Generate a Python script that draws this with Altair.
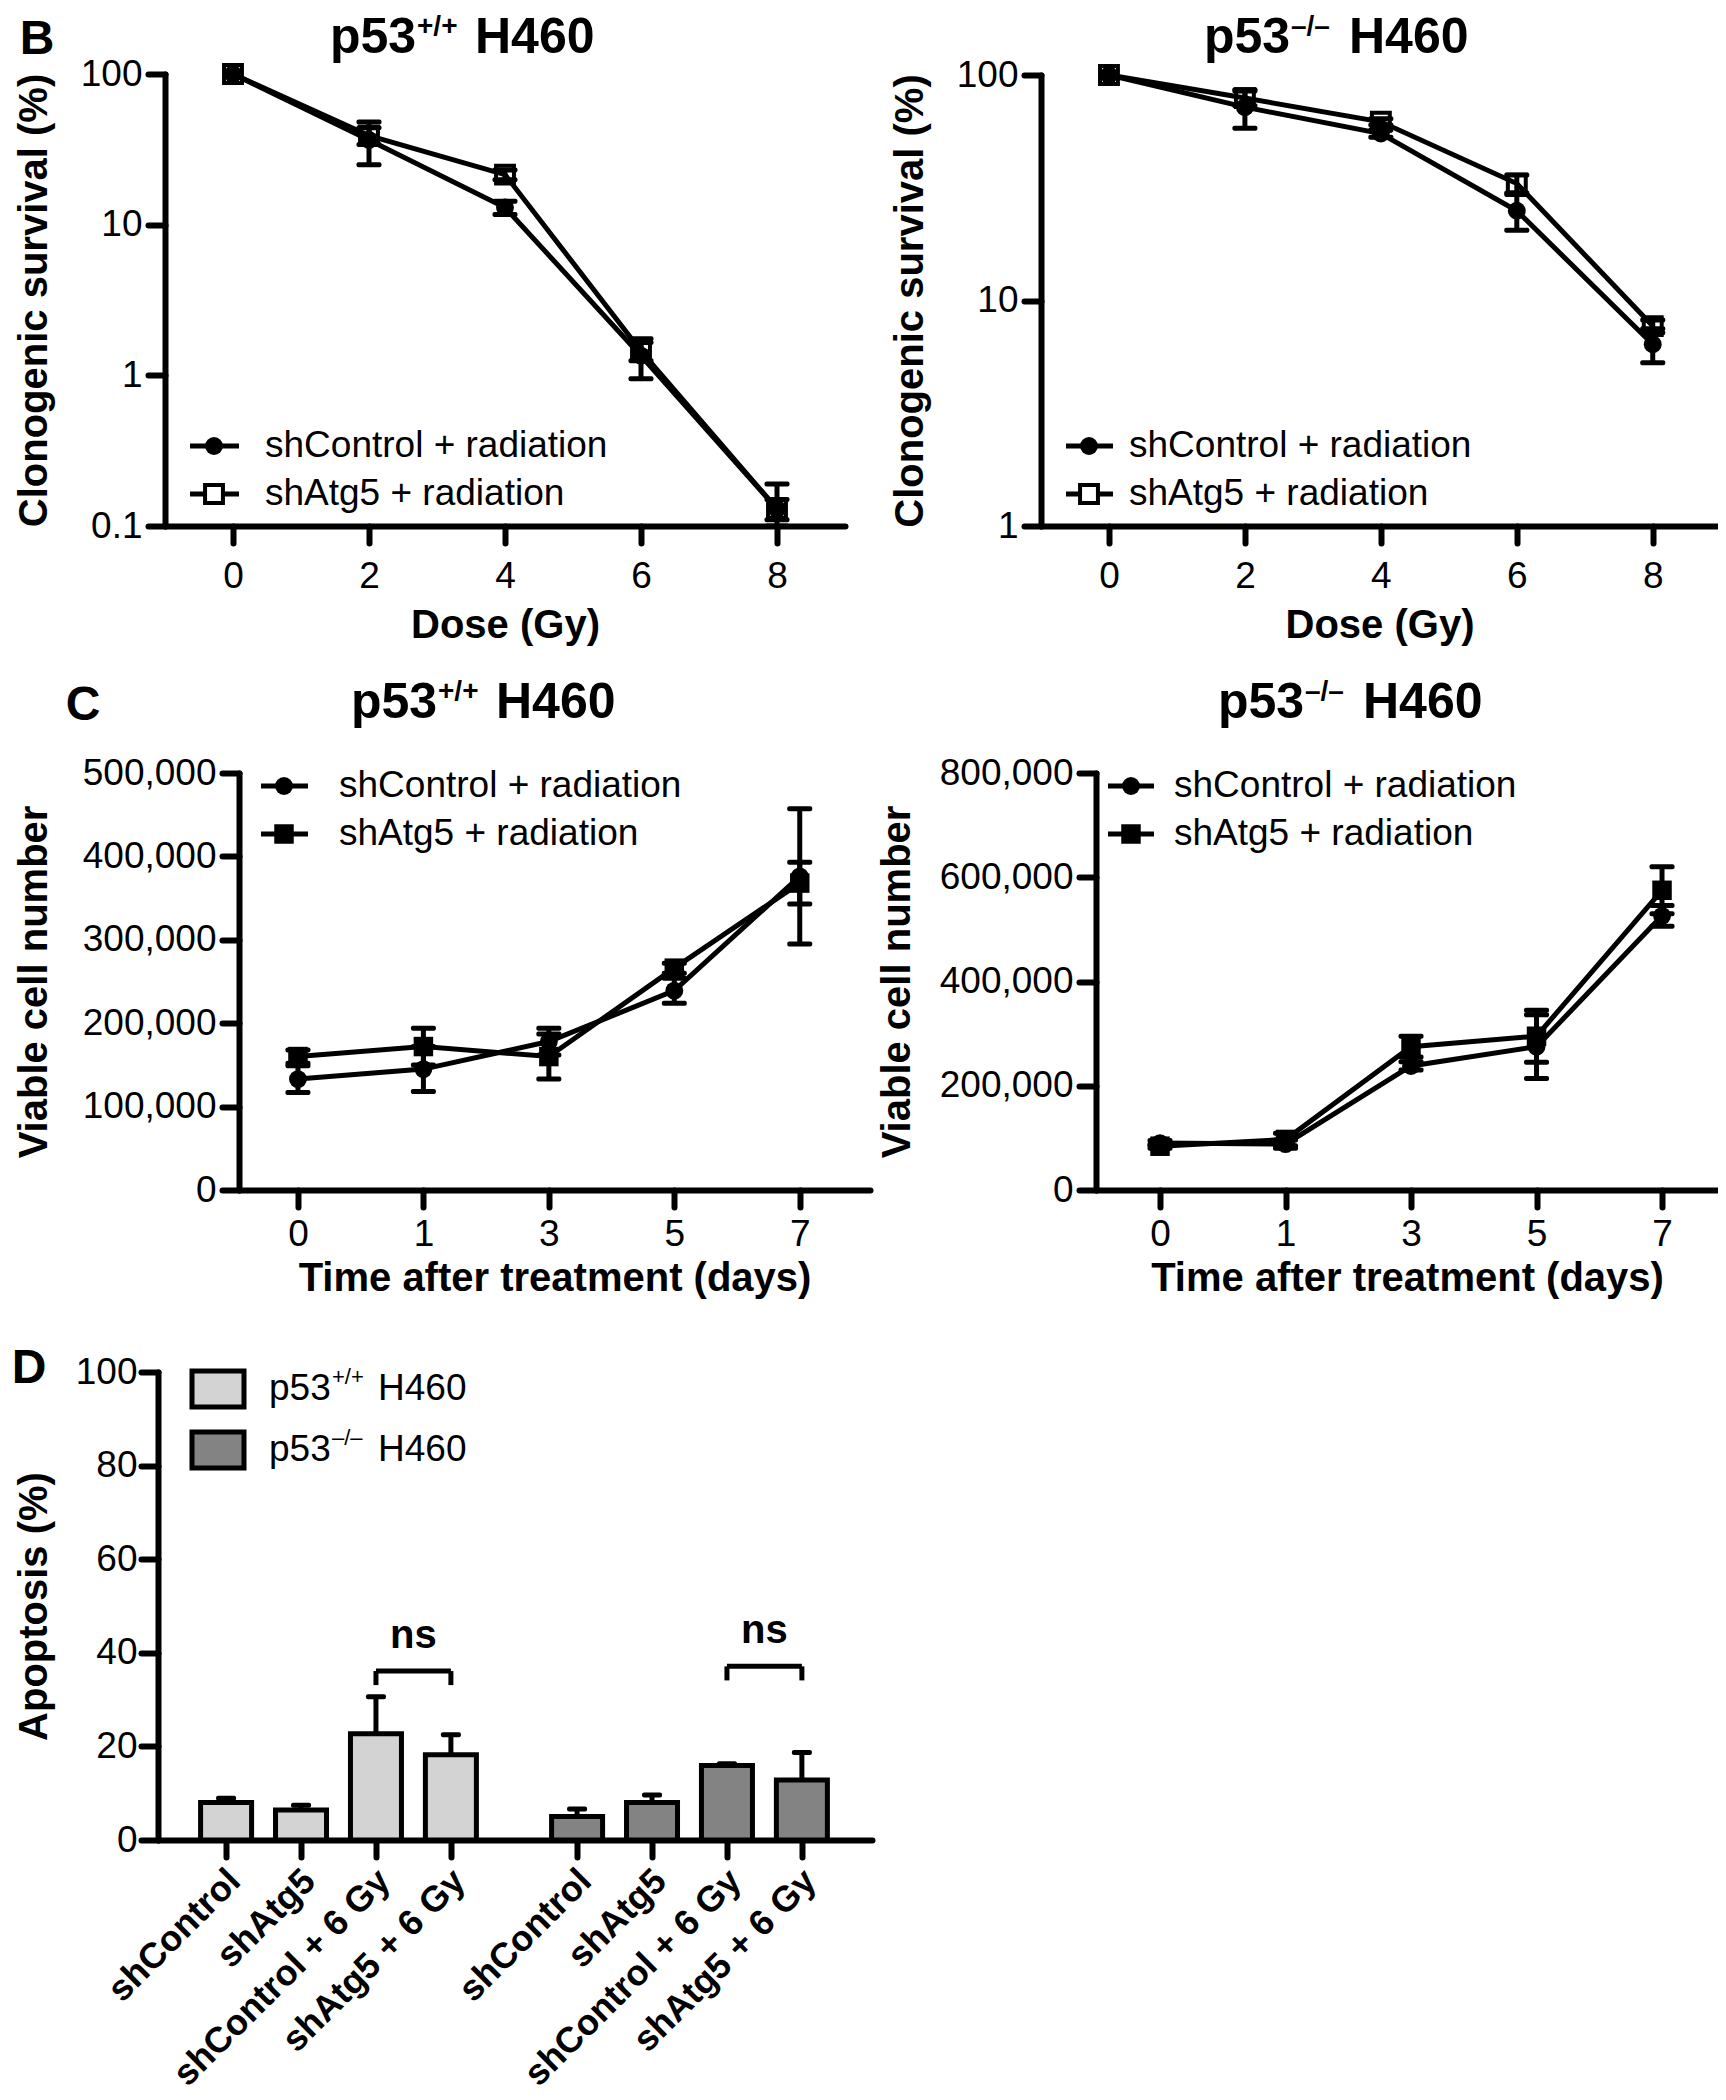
import altair as alt
import pandas as pd

FONT = "Liberation Sans, Arial, Helvetica, sans-serif"
INK = "black"
W, H = 1710, 2084

# ---------------- data ----------------
doses = [0, 2, 4, 6, 8]
days = [0, 1, 3, 5, 7]
series = ["shControl + radiation", "shAtg5 + radiation"]
gene, cell = "p53", "H460"
genotypes = ["+/+", "\u2013/\u2013"]

surv_wt_ctrl = [100, 36.5, 13.0, 1.35, 0.13]
surv_wt_ctrl_sd = [0, 11.5, 1.3, 0.40, 0.06]
surv_wt_atg5 = [100, 39.0, 21.5, 1.45, 0.13]
surv_wt_atg5_sd = [0, 5.0, 1.6, 0.20, 0.02]

surv_ko_ctrl = [100, 72, 55, 25, 6.4]
surv_ko_ctrl_sd = [0, 14, 2, 4.5, 1.1]
surv_ko_atg5 = [100, 79, 62, 33, 7.7]
surv_ko_atg5_sd = [0, 6, 2, 3, 0.5]

cells_wt_ctrl = [133000, 145000, 178000, 239000, 376000]
cells_wt_ctrl_sd = [16000, 27000, 16000, 15000, 81000]
cells_wt_atg5 = [160000, 172000, 160000, 266000, 368000]
cells_wt_atg5_sd = [8000, 22000, 27000, 6000, 25000]

cells_ko_ctrl = [90000, 88000, 238000, 275000, 526000]
cells_ko_ctrl_sd = [5000, 8000, 8000, 61000, 20000]
cells_ko_atg5 = [84000, 97000, 275000, 295000, 575000]
cells_ko_atg5_sd = [4000, 12000, 20000, 50000, 45000]

conditions = ["shControl", "shAtg5", "shControl + 6 Gy", "shAtg5 + 6 Gy"]
apop_wt = [8.0, 6.4, 22.7, 18.2]
apop_wt_err = [0.9, 1.0, 7.9, 4.3]
apop_ko = [5.0, 8.0, 15.9, 12.8]
apop_ko_err = [1.6, 1.6, 0.4, 5.9]
ns_level = [36.1, 37.1]

LW = 5
ONE = pd.DataFrame({"_": [0]})
CIRCLE = 320
OPEN_SQ = 320
FILLED_SQ = 380


def make_df(xs, a, a_sd, b, b_sd):
    rows = []
    for s, vals, sds in ((series[0], a, a_sd), (series[1], b, b_sd)):
        for i, (x, v, sd) in enumerate(zip(xs, vals, sds)):
            rows.append(dict(series=s, x=x, idx=i, v=v, sd=sd, lo=v - sd, hi=v + sd))
    return pd.DataFrame(rows)


def txt(text, x, y, size, bold=False, align="left", baseline="alphabetic"):
    return alt.Chart(ONE).mark_text(
        text=text, font=FONT, fontSize=size, fontWeight="bold" if bold else "normal",
        color=INK, align=align, baseline=baseline,
    ).encode(x=alt.value(x), y=alt.value(y))


def panel_title(x0, base, geno):
    return [
        txt(gene, x0, base, 50, True),
        txt(geno, x0 + 87, base - 18, 28, True),
        txt(cell, x0 + 145, base, 50, True),
    ]


def marker(chart, i, open_second):
    if i == 0:
        return chart.mark_circle(size=CIRCLE, color=INK, opacity=1)
    if open_second:
        return chart.mark_square(size=OPEN_SQ, fill=None, fillOpacity=0, stroke=INK,
                                 strokeWidth=4, opacity=1)
    return chart.mark_square(size=FILLED_SQ, color=INK, opacity=1)


def line_legend(xl0, xl1, xm, xt, ys, open_second):
    layers = []
    for i, s in enumerate(series):
        one = pd.DataFrame({"label": [s]})
        layers.append(alt.Chart(one).mark_rule(color=INK, strokeWidth=LW).encode(
            x=alt.value(xl0), x2=alt.value(xl1), y=alt.value(ys[i])))
        if i == 1 and open_second:
            layers.append(alt.Chart(one).mark_square(size=OPEN_SQ, color="white", opacity=1).encode(
                x=alt.value(xm), y=alt.value(ys[i])))
        layers.append(marker(alt.Chart(one), i, open_second).encode(x=alt.value(xm), y=alt.value(ys[i])))
        layers.append(alt.Chart(one).mark_text(
            font=FONT, fontSize=37, color=INK, align="left", baseline="middle").encode(
            x=alt.value(xt), y=alt.value(ys[i]), text="label:N"))
    return layers


def line_panel(df, xfield, xsc, ysc, xax, yax, xtitle, ytitle, open_second, extra):
    X = alt.X(f"{xfield}:Q", scale=xsc, axis=xax, title=xtitle)

    def Y(f):
        return alt.Y(f"{f}:Q", scale=ysc, axis=yax, title=ytitle)

    base = alt.Chart(df)
    pts = [marker(base.transform_filter(alt.datum.series == s), i, open_second).encode(x=X, y=Y("v"))
           for i, s in enumerate(series)]
    line = base.mark_line(color=INK, strokeWidth=LW).encode(x=X, y=Y("v"), detail="series:N")
    err = base.transform_filter("datum.sd > 0")
    stems = err.mark_rule(color=INK, strokeWidth=LW).encode(x=X, y=Y("lo"), y2="hi:Q")
    cap_lo = err.mark_tick(orient="horizontal", size=25, thickness=5, color=INK, opacity=1,
                           cornerRadius=2).encode(x=X, y=Y("lo"))
    cap_hi = err.mark_tick(orient="horizontal", size=25, thickness=5, color=INK, opacity=1,
                           cornerRadius=2).encode(x=X, y=Y("hi"))
    return alt.layer(*pts, line, stems, cap_lo, cap_hi, *extra)


def yaxis(offset, values, fmt, tx):
    return alt.Axis(orient="left", offset=offset, values=values, format=fmt,
                    titleX=tx, labelPadding=6)


TOP = 45  # baseline of the top-row titles

# ---------------- panel B ----------------
dfB1 = make_df(doses, surv_wt_ctrl, surv_wt_ctrl_sd, surv_wt_atg5, surv_wt_atg5_sd)
dfB2 = make_df(doses, surv_ko_ctrl, surv_ko_ctrl_sd, surv_ko_atg5, surv_ko_atg5_sd)

xB_ax = dict(orient="bottom", values=doses, format="d", labelPadding=15, titlePadding=11)

B1 = line_panel(
    dfB1, "x",
    alt.Scale(domain=[-1, 9], range=[157, 837], nice=False, zero=False),
    alt.Scale(type="log", domain=[0.1, 100], range=[518, 66], clamp=True, nice=False),
    alt.Axis(offset=518 - H, **xB_ax),
    yaxis(-157, [0.1, 1, 10, 100], "~g", 46 - 157),
    "Dose (Gy)", "Clonogenic survival (%)", True,
    [txt("B", 29, TOP + 1, 48, True, "center"), *panel_title(322, TOP, genotypes[0]),
     *line_legend(182, 231, 206, 257, [438, 486], True)],
)

B2 = line_panel(
    dfB2, "x",
    alt.Scale(domain=[-1, 8.96], range=[1033, 1710], nice=False, zero=False),
    alt.Scale(type="log", domain=[1, 100], range=[518, 67], clamp=True, nice=False),
    alt.Axis(offset=518 - H, **xB_ax),
    yaxis(-1033, [1, 10, 100], "~g", 922 - 1033),
    "Dose (Gy)", "Clonogenic survival (%)", True,
    [*panel_title(1196, TOP, genotypes[1]),
     *line_legend(1058, 1105, 1081, 1121, [438, 486], True)],
)

# ---------------- panel C ----------------
dfC1 = make_df(days, cells_wt_ctrl, cells_wt_ctrl_sd, cells_wt_atg5, cells_wt_atg5_sd)
dfC2 = make_df(days, cells_ko_ctrl, cells_ko_ctrl_sd, cells_ko_atg5, cells_ko_atg5_sd)
day_expr = "[" + ",".join(f"'{d}'" for d in days) + "][round(datum.value)]"
xC_ax = dict(orient="bottom", values=list(range(len(days))), labelExpr=day_expr,
             labelPadding=9, titlePadding=6)

C1 = line_panel(
    dfC1, "idx",
    alt.Scale(domain=[-0.47, 4.56], range=[231, 862], nice=False, zero=False),
    alt.Scale(domain=[0, 500000], range=[1182, 765], nice=False),
    alt.Axis(offset=1182 - H, **xC_ax),
    yaxis(-231, list(range(0, 500001, 100000)), ",d", 46 - 231),
    "Time after treatment (days)", "Viable cell number", False,
    [txt("C", 75, 712, 48, True, "center"), *panel_title(343, 710, genotypes[0]),
     *line_legend(253, 300, 276, 331, [778, 826], False)],
)

C2 = line_panel(
    dfC2, "idx",
    alt.Scale(domain=[-0.51, 4.446], range=[1088, 1710], nice=False, zero=False),
    alt.Scale(domain=[0, 800000], range=[1182, 765], nice=False),
    alt.Axis(offset=1182 - H, **xC_ax),
    yaxis(-1088, list(range(0, 800001, 200000)), ",d", 909 - 1088),
    "Time after treatment (days)", "Viable cell number", False,
    [*panel_title(1210, 710, genotypes[1]),
     *line_legend(1100, 1146, 1123, 1166, [778, 826], False)],
)

# ---------------- panel D ----------------
GAP = 0.684
lines_d = [f"{gene}{g} {cell}" for g in genotypes]
rows = []
for g, (vals, errs) in enumerate(((apop_wt, apop_wt_err), (apop_ko, apop_ko_err))):
    for i, c in enumerate(conditions):
        rows.append(dict(line=lines_d[g], cond=c, pos=g * (len(conditions) + GAP) + i,
                         v=vals[i], hi=vals[i] + errs[i]))
dfD = pd.DataFrame(rows)
positions = [float(p) for p in dfD["pos"]]
cond_arr = "[" + ",".join(f"'{c}'" for c in conditions) + "]"
d_expr = f"{cond_arr}[round(datum.value - (datum.value > 4 ? {GAP} : 0)) % 4]"

xD_sc = alt.Scale(domain=[-0.842, 8.553], range=[150, 864], nice=False, zero=False)
xD_ax = alt.Axis(orient="bottom", offset=1832 - H, values=positions, labelExpr=d_expr,
                 labelAngle=-45, labelAlign="right", labelBaseline="top",
                 labelFontWeight="bold", labelFontSize=36, labelPadding=6,
                 labelOffset=-4, labelLimit=0, tickSize=17)


def XD(f):
    return alt.X(f"{f}:Q", scale=xD_sc, axis=xD_ax, title=None)


yD_sc = alt.Scale(domain=[0, 100], range=[1832, 1364], nice=False)
yD_ax = alt.Axis(orient="left", offset=-150, values=list(range(0, 101, 20)),
                 titleX=46 - 150, labelPadding=4, tickSize=17)


def YD(f):
    return alt.Y(f"{f}:Q", scale=yD_sc, axis=yD_ax, title="Apoptosis (%)")


fills = ["#d3d3d3", "#838383"]
bD = alt.Chart(dfD)
bars = bD.mark_bar(size=51, stroke=INK, strokeWidth=LW, opacity=1).encode(
    x=XD("pos"), y=YD("v"),
    color=alt.Color("line:N", scale=alt.Scale(domain=lines_d, range=fills), legend=None))
d_stem = bD.mark_rule(color=INK, strokeWidth=LW).encode(x=XD("pos"), y=YD("v"), y2="hi:Q")
d_cap = bD.mark_tick(orient="horizontal", size=20, thickness=5, color=INK, opacity=1,
                     cornerRadius=2).encode(x=XD("pos"), y=YD("hi"))

ns_rows = []
for g in range(2):
    a = positions[g * 4 + 2]
    b = positions[g * 4 + 3]
    ns_rows.append(dict(a=a, b=b, mid=(a + b) / 2, top=ns_level[g], leg=ns_level[g] - 3.0,
                        lab=ns_level[g] + 7.5, t="ns"))
dfNS = pd.DataFrame(ns_rows)
nsC = alt.Chart(dfNS)
ns_h = nsC.mark_rule(color=INK, strokeWidth=LW).encode(x=XD("a"), x2="b:Q", y=YD("top"))
ns_l1 = nsC.mark_rule(color=INK, strokeWidth=LW).encode(x=XD("a"), y=YD("top"), y2="leg:Q")
ns_l2 = nsC.mark_rule(color=INK, strokeWidth=LW).encode(x=XD("b"), y=YD("top"), y2="leg:Q")
ns_t = nsC.mark_text(font=FONT, fontSize=40, fontWeight="bold", color=INK, baseline="middle").encode(
    x=XD("mid"), y=YD("lab"), text="t:N")

d_leg = []
for g, ly in enumerate([1381, 1442]):
    one = pd.DataFrame({"line": [lines_d[g]]})
    d_leg.append(alt.Chart(one).mark_rect(fill=fills[g], stroke=INK, strokeWidth=LW).encode(
        x=alt.value(184), x2=alt.value(236), y=alt.value(ly - 18), y2=alt.value(ly + 18)))
    d_leg.append(txt(gene, 261, ly, 37, False, "left", "middle"))
    d_leg.append(txt(genotypes[g], 324, ly - 12, 22, False, "left", "middle"))
    d_leg.append(txt(cell, 370, ly, 37, False, "left", "middle"))

D = alt.layer(bars, d_stem, d_cap, ns_h, ns_l1, ns_l2, ns_t, *d_leg,
              txt("D", 21, 1375, 48, True, "center"))

chart = (
    alt.layer(B1, B2, C1, C2, D)
    .resolve_scale(x="independent", y="independent")
    .resolve_axis(x="independent", y="independent")
    .properties(width=W, height=H, padding=0, autosize=alt.AutoSizeParams(type="none"))
    .configure(font=FONT)
    .configure_view(stroke=None)
    .configure_axis(
        grid=False, domainColor=INK, domainWidth=6, domainCap="round",
        tickColor=INK, tickWidth=6, tickSize=17, tickCap="round",
        labelFont=FONT, labelFontSize=37, labelColor=INK, labelOverlap=False,
        titleFont=FONT, titleFontSize=40, titleFontWeight="bold", titleColor=INK,
    )
)

chart.save("out.html", embed_options={"renderer": "svg", "actions": False})
